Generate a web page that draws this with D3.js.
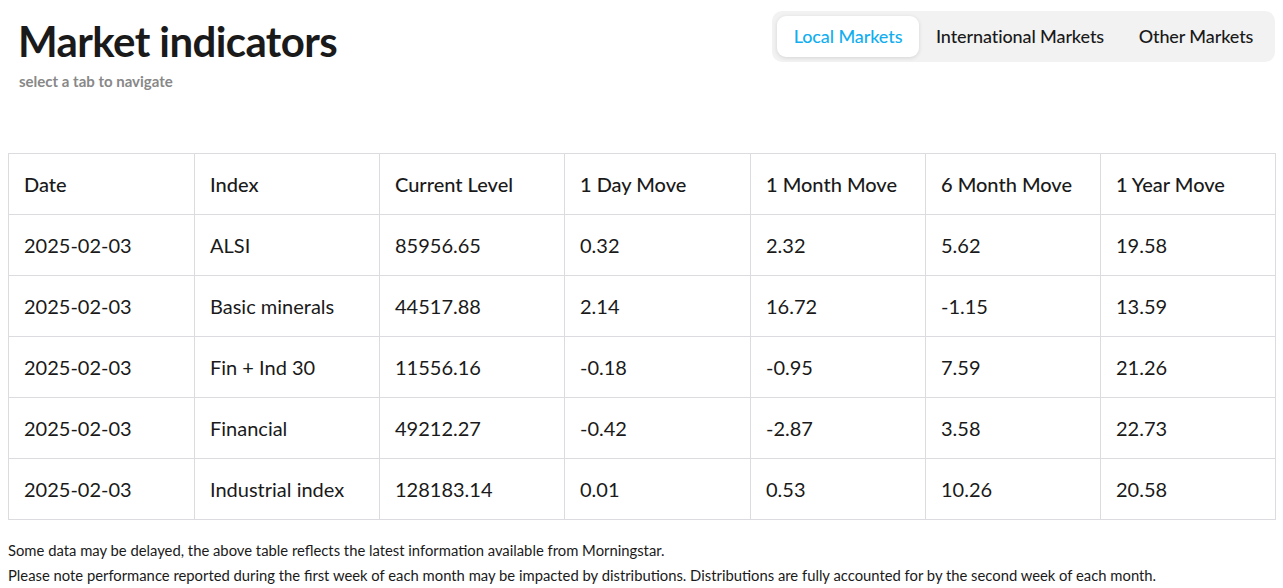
<!DOCTYPE html>
<html><head><meta charset="utf-8">
<script src="https://cdn.jsdelivr.net/npm/d3@7"></script>
<style>
body{margin:0;font-family:Lato,sans-serif;background:#fff;color:#1a1a1a;width:1283px;height:588px;position:relative;overflow:hidden}
h1{position:absolute;left:18px;top:17px;margin:0;font-size:42px;font-weight:700;letter-spacing:-0.6px;line-height:48px}
.sub{position:absolute;left:19px;top:72px;font-size:15px;font-weight:700;color:#888}
.tabs{position:absolute;left:772px;top:11px;width:503px;height:51px;background:#f2f2f2;border-radius:10px}
.tab{position:absolute;top:5px;height:41px;line-height:41px;font-size:18px;font-weight:500;text-align:center;letter-spacing:-0.1px}
.tab.active{background:#fff;border-radius:9px;color:#12aef0;box-shadow:0 1px 4px rgba(0,0,0,.12)}
table{position:absolute;left:8px;top:153px;border-collapse:collapse;table-layout:fixed}
td,th{border:1px solid #dcdce0;height:61px;padding:0 0 0 15px;font-size:20px;text-align:left;box-sizing:border-box}
th{font-weight:500}
td{font-weight:400}
.foot{position:absolute;left:8px;font-size:14.8px}
</style></head><body>
<h1>Market indicators</h1>
<div class="sub">select a tab to navigate</div>
<div class="tabs" id="tabs"></div>
<table id="t"></table>
<div class="foot" style="top:541px">Some data may be delayed, the above table reflects the latest information available from Morningstar.</div>
<div class="foot" style="top:566px">Please note performance reported during the first week of each month may be impacted by distributions. Distributions are fully accounted for by the second week of each month.</div>
<script>
const tabs=["Local Markets","International Markets","Other Markets"];
const headers=["Date","Index","Current Level","1 Day Move","1 Month Move","6 Month Move","1 Year Move"];
const dates=["2025-02-03","2025-02-03","2025-02-03","2025-02-03","2025-02-03"];
const indices=["ALSI","Basic minerals","Fin + Ind 30","Financial","Industrial index"];
const levels=["85956.65","44517.88","11556.16","49212.27","128183.14"];
const day=["0.32","2.14","-0.18","-0.42","0.01"];
const month=["2.32","16.72","-0.95","-2.87","0.53"];
const six=["5.62","-1.15","7.59","3.58","10.26"];
const year=["19.58","13.59","21.26","22.73","20.58"];
const colW=[186,185,185,186,175,175,175];
const tabPos=[[5,142],[150,196],[352,144]];
d3.select("#tabs").selectAll("div").data(tabs).join("div")
 .attr("class",(d,i)=>"tab"+(i===0?" active":""))
 .style("left",(d,i)=>tabPos[i][0]+"px").style("width",(d,i)=>tabPos[i][1]+"px").text(d=>d);
const t=d3.select("#t");
t.append("colgroup").selectAll("col").data(colW).join("col").style("width",d=>d+"px");
t.append("tr").selectAll("th").data(headers).join("th").text(d=>d);
const rows=dates.map((d,i)=>[d,indices[i],levels[i],day[i],month[i],six[i],year[i]]);
t.selectAll("tr.r").data(rows).join("tr").attr("class","r").selectAll("td").data(d=>d).join("td").text(d=>d);
</script></body></html>
